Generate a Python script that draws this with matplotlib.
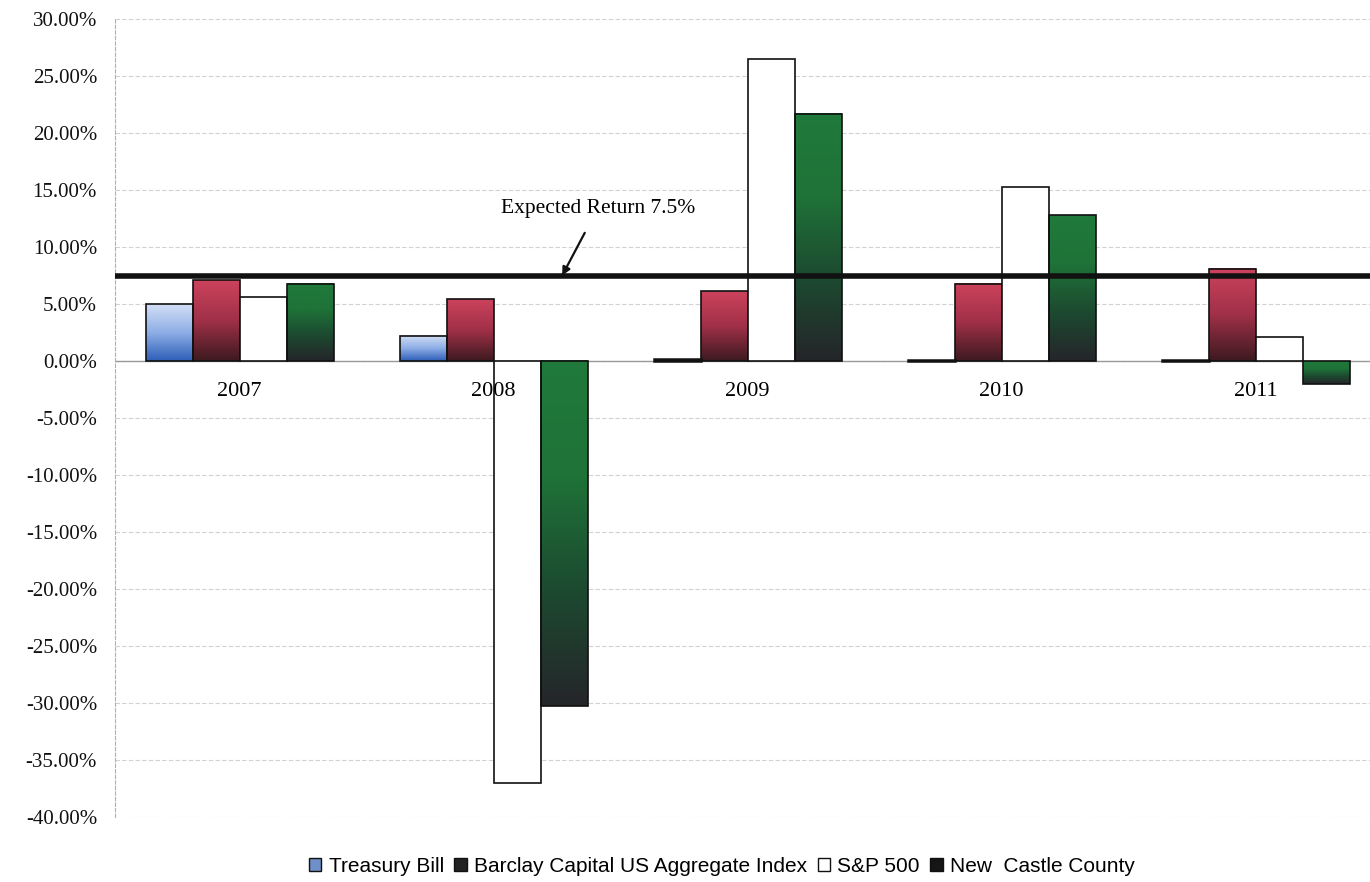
import matplotlib
matplotlib.use("Agg")
import matplotlib.pyplot as plt
import numpy as np
from matplotlib.colors import LinearSegmentedColormap
from matplotlib.patches import Patch

years = ["2007", "2008", "2009", "2010", "2011"]
treasury_bill = [5.0, 2.2, 0.15, 0.13, 0.10]
barclay_agg = [7.1, 5.4, 6.1, 6.8, 8.1]
sp500 = [5.6, -37.0, 26.5, 15.3, 2.1]
new_castle = [6.8, -30.3, 21.7, 12.8, -2.0]
expected_return = 7.5

series_names = ["Treasury Bill", "Barclay Capital US Aggregate Index",
                "S&P 500", "New  Castle County"]

# top -> bottom colour stops for the shaded bars (None = plain white)
gradients = [
    ["#d2def5", "#8eaee6", "#2f5fb8"],
    ["#cc425c", "#a03048", "#3e1a20"],
    None,
    ["#1f7a3b", "#1f7238", "#1c4a30", "#25262a"],
]
legend_faces = ["#6f8fc8", "#222222", "white", "#151515"]

plt.rcParams["font.family"] = ["Liberation Serif", "DejaVu Serif"]

fig = plt.figure(figsize=(13.7, 8.82), dpi=100)
ax = fig.add_axes([0.084, 0.0737, 0.916, 0.9047])

x = np.arange(len(years))
width = 0.185
offsets = (np.arange(4) - 1.5) * width
all_values = [treasury_bill, barclay_agg, sp500, new_castle]

ax.set_xlim(-0.49, 4.45)
ax.set_ylim(-40, 30)

for values, off, grad in zip(all_values, offsets, gradients):
    bars = ax.bar(x + off, values, width,
                  facecolor="white" if grad is None else "none",
                  edgecolor="#111111", linewidth=1.2, zorder=3)
    if grad is None:
        continue
    cmap = LinearSegmentedColormap.from_list("g", grad)
    for rect in bars:
        x0 = rect.get_x()
        y0, h = rect.get_y(), rect.get_height()
        lo, hi = min(y0, y0 + h), max(y0, y0 + h)
        if abs(h) < 0.5:
            rect.set_facecolor("#111111")
            rect.set_linewidth(1.8)
            continue
        img = np.linspace(0, 1, 64).reshape(-1, 1)
        ax.imshow(img, cmap=cmap, aspect="auto", origin="upper",
                  extent=[x0, x0 + width, lo, hi], zorder=2.5,
                  interpolation="bilinear")

# horizontal reference for the expected return
ax.axhline(expected_return, color="#111111", linewidth=4, zorder=4)
ax.annotate("Expected Return 7.5%", xy=(1.27, expected_return),
            xytext=(1.41, 13.4), ha="center", va="center", fontsize=15.5,
            arrowprops=dict(arrowstyle="-|>", color="#111111", lw=1.6,
                            shrinkA=10, shrinkB=0, mutation_scale=12),
            zorder=5)

ax.set_yticks(np.arange(-40, 31, 5))
ax.set_yticklabels([f"{v:.2f}%" for v in np.arange(-40, 31, 5)], fontsize=15)
ax.tick_params(axis="y", length=0, pad=13, colors="#111111")
ax.set_xticks([])
ax.yaxis.grid(True, color="#d2d2d2", linewidth=0.8, linestyle=(0, (4, 2)))
ax.set_axisbelow(True)
ax.axhline(0, color="#9a9a9a", linewidth=1.0, zorder=1)
for side in ["top", "right", "bottom"]:
    ax.spines[side].set_visible(False)
ax.spines["left"].set_color("#b0b0b0")
ax.spines["left"].set_linestyle((0, (3, 2)))

for xi, yr in zip(x, years):
    ax.text(xi, -2.7, yr, ha="center", va="center", fontsize=16, zorder=6)

handles = [Patch(facecolor=fc, edgecolor="#111111", linewidth=1.0)
           for fc in legend_faces]
fig.legend(handles, series_names, loc="center", ncol=4,
           bbox_to_anchor=(0.527, 0.018), frameon=False,
           prop={"family": "Liberation Sans", "size": 15},
           handlelength=0.6, handleheight=0.6, handletextpad=0.35,
           columnspacing=0.5)

fig.savefig("out.png", dpi=100)
